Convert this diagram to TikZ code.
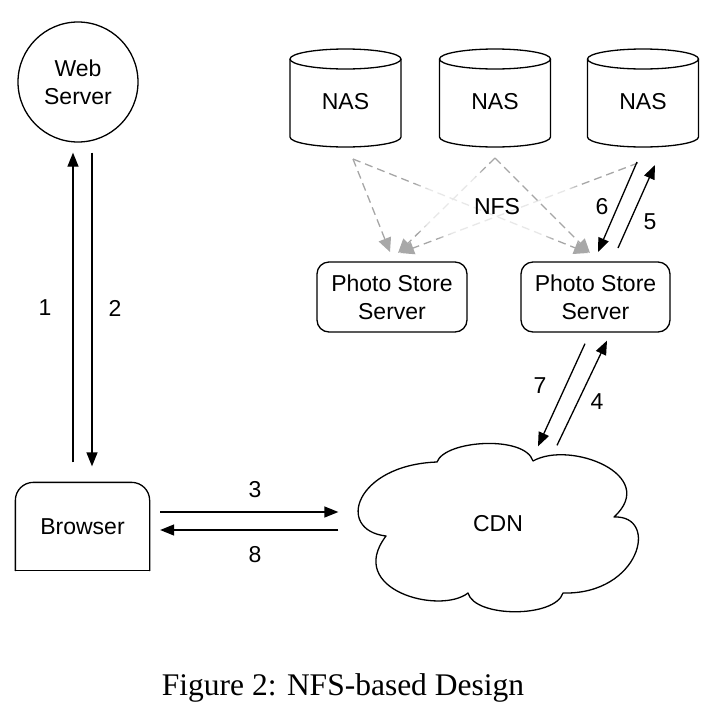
\documentclass[tikz,border=0pt]{standalone}
\usepackage{fontspec}
\setmainfont{Liberation Sans}
\newfontfamily\capfont{Liberation Serif}
\usetikzlibrary{arrows.meta,calc,fadings}
\definecolor{dgray}{HTML}{A6A6A6}
\definecolor{tgray}{HTML}{A8A8A8}
\begin{document}
\begin{tikzpicture}[x=1pt,y=-1pt, line width=1.3pt,
  lbl/.style={font=\fontsize{23}{28}\selectfont, inner sep=0pt},
  blk/.style={-{Triangle[length=14pt,width=11pt]}, line width=1.3pt},
  nfsline/.style={dash pattern=on 8pt off 5pt, draw=dgray, line width=1.3pt,
    -{Triangle[length=14pt,width=13pt,fill=tgray,color=tgray]}},
]
\useasboundingbox (0,0) rectangle (712,710);

% Web server
\node[draw, circle, minimum size=120pt, align=center, lbl] (ws) at (78,82) {Web\\Server};

% Browser
\node[lbl, minimum width=133pt, minimum height=87pt] (br) at (82.5,526.5) {Browser};
\draw[rounded corners=18pt, line cap=round] (br.south west) -- (br.north west) -- (br.north east) -- (br.south east);
\draw[line cap=round] (br.south west) -- (br.south east);

% Photo store servers
\node[draw, rounded corners=12pt, minimum width=150pt, minimum height=70pt, align=center, lbl] (pss1) at (392,297) {Photo Store\\Server};
\node[draw, rounded corners=12pt, minimum width=149pt, minimum height=70pt, align=center, lbl] (pss2) at (595.5,297) {Photo Store\\Server};

% NAS cylinders
\foreach \n/\cx in {nas1/345.5, nas2/495, nas3/643}{
  \node[lbl, minimum width=111pt, minimum height=98pt] (\n) at (\cx,102) {NAS};
  \draw[shift={(\n.center)}] (0,-43) ellipse[x radius=55.5, y radius=10];
  \draw[shift={(\n.center)}] (-55.5,-43) -- (-55.5,35) arc[start angle=180, end angle=0, x radius=55.5, y radius=10] -- (55.5,-43);
}

% CDN cloud
\node[lbl, minimum width=278pt, minimum height=168pt] (cdn) at (498,524) {CDN};
\draw[shift={($(cdn.center)+(0,2.5)$)}, line join=round]
  (-112,9.5) .. controls (-163,3.5) and (-143,-61.5) .. (-61,-64.5)
  .. controls (-53,-86.5) and (27,-91.5) .. (35,-65.5)
  .. controls (72,-86.5) and (162,-51.5) .. (116,-9.5)
  .. controls (162,-11.5) and (142,68.5) .. (65,66.5)
  .. controls (57,91.5) and (-23,91.5) .. (-30,66.5)
  .. controls (-58,88.5) and (-153,63.5) .. cycle;

% NFS label position
\node[lbl] (nfs) at (497,207) {NFS};

% NFS dashed connectors
\draw[nfsline] ($(nas1.center)+(7.5,57)$) -- ($(pss1.center)+(-2,-45)$);
\draw[nfsline] ($(nas2.center)+(0,56)$) -- ($(pss1.center)+(6,-44)$);
\draw[nfsline] ($(nas3.center)+(-5,61)$) -- ($(pss1.center)+(8,-44)$);
\draw[nfsline] ($(nas1.center)+(7.5,57)$) -- ($(pss2.center)+(-7.5,-44)$);
\fill[white, fill opacity=0.75, path fading=circle with fuzzy edge 20 percent] (nfs.center) ellipse[x radius=105, y radius=38];
\draw[nfsline] ($(nas2.center)+(0,56)$) -- ($(pss2.center)+(-5.5,-44)$);
\node[lbl] at (nfs.center) {NFS};

% black connectors
\draw[blk] ($(nas3.center)+(-6,60)$) -- ($(pss2.center)+(2.5,-45)$);
\draw[blk] ($(pss2.center)+(22.5,-49)$) -- ($(nas3.center)+(12,63)$);
\draw[blk] ($(br.north)+(-9.5,-20)$) -- ($(ws.south)+(-5,10)$);
\draw[blk] ($(ws.south)+(14,10)$) -- ($(br.north)+(9.5,-16)$);
\draw[blk] ($(br.east)+(10.5,-14.5)$) -- ($(cdn.west)+(-20,-12)$);
\draw[blk] ($(cdn.west)+(-20,6)$) -- ($(br.east)+(10.5,3.5)$);
\draw[blk] ($(pss2.south)+(-10.5,11)$) -- ($(cdn.north)+(40,7)$);
\draw[blk] ($(cdn.north)+(59,6)$) -- ($(pss2.south)+(11.5,8)$);

% labels
\node[lbl] (l1) at (45,308) {1};
\node[lbl] (l2) at (115,308) {2};
\node[lbl] (l3) at (255,490) {3};
\node[lbl] (l8) at (255,555) {8};
\node[lbl] (l7) at (540,386) {7};
\node[lbl] (l4) at (597,402) {4};
\node[lbl] (l6) at (602,207) {6};
\node[lbl] (l5) at (650,222) {5};

% caption
\node[font=\capfont\fontsize{31.5}{36}\selectfont, inner sep=0pt] (cap) at (343,688) {Figure 2: NFS-based Design};
\end{tikzpicture}
\end{document}
